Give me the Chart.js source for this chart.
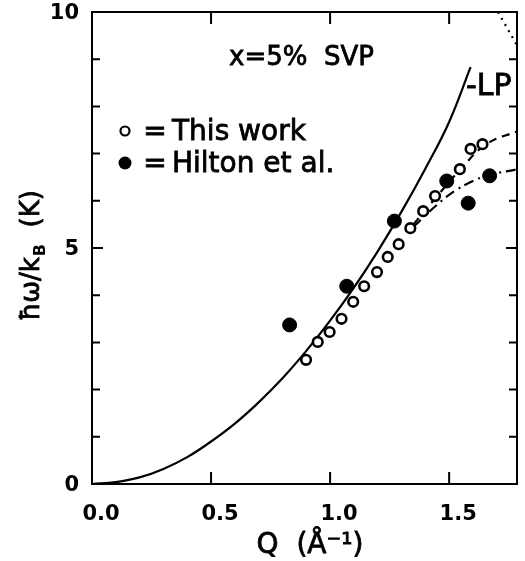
<!DOCTYPE html>
<html>
<head>
<meta charset="utf-8">
<script src="https://cdn.jsdelivr.net/npm/chart.js@4.4.0/dist/chart.umd.min.js"></script>
<style>
  html, body { margin: 0; padding: 0; background: #fff; }
  #wrap { width: 525px; height: 561px; }
</style>
</head>
<body>
<div id="wrap"><canvas id="myChart" width="525" height="561"></canvas></div>
<script>
// open circles - this work
var thisQ = [0.899, 0.948, 0.998, 1.048, 1.097, 1.143, 1.197, 1.242, 1.288, 1.337, 1.391, 1.441, 1.491, 1.545, 1.590, 1.640];
var thisE = [2.63, 3.01, 3.22, 3.50, 3.86, 4.19, 4.49, 4.81, 5.08, 5.42, 5.78, 6.10, 6.40, 6.67, 7.10, 7.20];

// filled circles - Hilton et al.
var hiltonQ = [0.83, 1.07, 1.27, 1.49, 1.58, 1.67];
var hiltonE = [3.37, 4.19, 5.57, 6.42, 5.95, 6.53];

// solid curve (LP)
var lpQ = [0, 0.1, 0.2, 0.3, 0.4, 0.5, 0.6, 0.7, 0.8, 0.9, 1.0, 1.1, 1.2, 1.3, 1.4, 1.5, 1.59];
var lpE = [0, 0.04, 0.14, 0.32, 0.57, 0.90, 1.28, 1.73, 2.24, 2.82, 3.46, 4.16, 4.93, 5.77, 6.68, 7.67, 8.83];

// dashed curve
var dashQ = [1.35, 1.45, 1.55, 1.656, 1.79];
var dashE = [5.50, 6.10, 6.68, 7.20, 7.48];

// dash-dot curve
var dotdashQ = [1.35, 1.45, 1.524, 1.60, 1.67, 1.79];
var dotdashE = [5.45, 5.92, 6.21, 6.42, 6.55, 6.67];

// dotted curve (top right)
var dotQ = [1.705, 1.79];
var dotE = [10.0, 9.25];

var xTicks = [0, 0.5, 1.0, 1.5];
var yTicks = [0, 5, 10];

function pts (xs, ys) {
    return xs.map(function (x, i) { return {x: x, y: ys[i]}; });
}

var FONT = '"DejaVu Sans"';

// fill then a thin stroke, the scan has heavy letters
function txt (ctx, s, x, y) {
    ctx.fillText(s, x, y);
    ctx.strokeText(s, x, y);
}

var framePlugin = {
    id: 'frame',
    afterDraw: function (chart) {
        var ctx = chart.ctx;
        var a = chart.chartArea;
        var xs = chart.scales.x, ys = chart.scales.y;
        ctx.save();
        ctx.strokeStyle = '#000';
        ctx.lineWidth = 2;
        ctx.strokeRect(a.left, a.top, a.right - a.left, a.bottom - a.top);
        ctx.beginPath();
        for (var v = 1; v < 10; v++) {
            var y = ys.getPixelForValue(v);
            var len = (v == 5) ? 11 : 8;
            ctx.moveTo(a.left, y); ctx.lineTo(a.left + len, y);
            ctx.moveTo(a.right, y); ctx.lineTo(a.right - len, y);
        }
        [0.5, 1.0, 1.5].forEach(function (q) {
            var x = xs.getPixelForValue(q);
            ctx.moveTo(x, a.bottom); ctx.lineTo(x, a.bottom - 12);
            ctx.moveTo(x, a.top); ctx.lineTo(x, a.top + 12);
        });
        ctx.stroke();

        ctx.fillStyle = '#000';
        ctx.lineWidth = 0.8;

        // tick labels
        ctx.font = 'bold 21px ' + FONT;
        ctx.textAlign = 'center';
        ctx.textBaseline = 'alphabetic';
        xTicks.forEach(function (q) {
            ctx.fillText(q.toFixed(1), xs.getPixelForValue(q) + 9, 520);
        });
        ctx.textAlign = 'right';
        ctx.textBaseline = 'middle';
        yTicks.forEach(function (v) {
            ctx.fillText(String(v), 79, ys.getPixelForValue(v) + 2);
        });

        // annotations
        ctx.textBaseline = 'alphabetic';
        ctx.font = '26px ' + FONT;
        ctx.textAlign = 'left';
        txt(ctx, 'x=5%  SVP', 229, 65);

        ctx.font = '28px ' + FONT;
        txt(ctx, 'This work', 172, 140);
        txt(ctx, 'Hilton et al.', 172, 172);
        ctx.textAlign = 'center';
        txt(ctx, '=', 155, 140);
        txt(ctx, '=', 155, 172);

        ctx.lineWidth = 2.2;
        ctx.beginPath();
        ctx.arc(125, 131, 4.5, 0, Math.PI * 2);
        ctx.stroke();
        ctx.beginPath();
        ctx.arc(125, 163, 6.5, 0, Math.PI * 2);
        ctx.fill();

        ctx.lineWidth = 0.8;
        ctx.textAlign = 'left';
        ctx.font = '30px ' + FONT;
        txt(ctx, '-LP', 466, 95);

        // x title
        ctx.textAlign = 'center';
        ctx.font = '28px ' + FONT;
        txt(ctx, 'Q  (\u00C5\u207B\u00B9)', 310, 553);

        // y title with subscript
        ctx.translate(39, 256);
        ctx.rotate(-Math.PI / 2);
        ctx.textAlign = 'left';
        var big = '26px ' + FONT;
        var small = 'bold 16px ' + FONT;
        ctx.font = big;
        var w1 = ctx.measureText('\u0127\u03C9/k').width;
        var w3 = ctx.measureText('  (K)').width;
        ctx.font = small;
        var w2 = ctx.measureText('B').width;
        var x0 = -(w1 + w2 + w3) / 2;
        ctx.font = big;
        txt(ctx, '\u0127\u03C9/k', x0, 0);
        ctx.font = small;
        ctx.fillText('B', x0 + w1 + 1, 6);
        ctx.font = big;
        txt(ctx, '  (K)', x0 + w1 + w2 + 1, 0);
        ctx.restore();
    }
};

var ctx = document.getElementById('myChart').getContext('2d');
var chart = new Chart(ctx, {
    type: 'scatter',
    data: {
        datasets: [{
            label: 'Hilton et al.',
            data: pts(hiltonQ, hiltonE),
            pointRadius: 7,
            pointBackgroundColor: '#000',
            pointBorderColor: '#000',
            pointBorderWidth: 1,
            showLine: false,
            order: 0
        }, {
            label: 'This work',
            data: pts(thisQ, thisE),
            pointRadius: 4.8,
            pointBackgroundColor: '#fff',
            pointBorderColor: '#000',
            pointBorderWidth: 2.6,
            showLine: false,
            order: 1
        }, {
            label: 'LP',
            data: pts(lpQ, lpE),
            showLine: true,
            borderColor: '#000',
            borderWidth: 2.2,
            pointRadius: 0,
            tension: 0.4,
            order: 2
        }, {
            label: 'dashed',
            data: pts(dashQ, dashE),
            showLine: true,
            borderColor: '#000',
            borderWidth: 2.2,
            borderDash: [8, 6],
            pointRadius: 0,
            tension: 0.4,
            order: 3
        }, {
            label: 'dash-dot',
            data: pts(dotdashQ, dotdashE),
            showLine: true,
            borderColor: '#000',
            borderWidth: 2.2,
            borderDash: [10, 5, 2, 5],
            pointRadius: 0,
            tension: 0.4,
            order: 4
        }, {
            label: 'dotted',
            data: pts(dotQ, dotE),
            showLine: true,
            borderColor: '#000',
            borderWidth: 2.2,
            borderDash: [2, 5],
            pointRadius: 0,
            order: 5
        }]
    },
    options: {
        responsive: false,
        animation: false,
        devicePixelRatio: 1,
        layout: { padding: { top: 12, right: 2, left: 0, bottom: 0 } },
        plugins: { legend: { display: false }, tooltip: { enabled: false } },
        scales: {
            x: {
                type: 'linear',
                min: 0,
                max: 1.785,
                afterFit: function (s) { s.height = 77; },
                grid: { display: false, drawTicks: false },
                border: { display: false },
                ticks: { display: false }
            },
            y: {
                type: 'linear',
                min: 0,
                max: 10,
                afterFit: function (s) { s.width = 92; },
                grid: { display: false, drawTicks: false },
                border: { display: false },
                ticks: { display: false }
            }
        }
    },
    plugins: [framePlugin]
});
</script>
</body>
</html>
